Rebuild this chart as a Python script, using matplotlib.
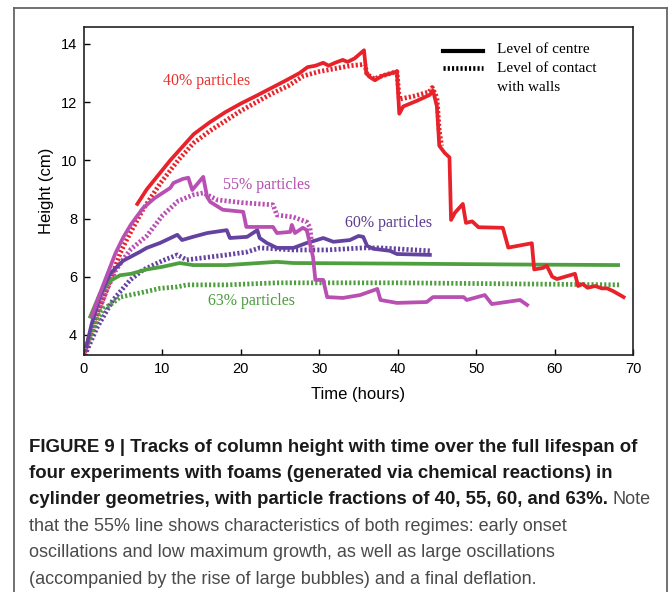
import matplotlib
matplotlib.use("Agg")
import matplotlib.pyplot as plt
from matplotlib.lines import Line2D

# 40% particles
red_c_t = [6.8, 8.0, 9.5, 11.0, 12.5, 14.0, 16.0, 18.0, 20.0, 22.0, 24.0, 26.0, 27.5, 28.5, 29.5, 30.5, 31.2, 32.0,
           33.0, 33.6, 34.5, 35.7, 36.0, 36.5, 37.1, 38.0, 39.9, 40.2, 40.7, 42.5, 44.1, 44.5, 45.0, 45.3, 46.0, 46.6,
           46.8, 47.3, 48.3, 48.7, 49.5, 50.3, 53.4, 54.1, 57.1, 57.4, 58.5, 59.0, 59.7, 60.3, 62.6, 63.0, 63.6, 64.2,
           65.2, 66.0, 66.7, 67.5, 68.8]
red_c_h = [8.5, 9.0, 9.5, 10.0, 10.45, 10.9, 11.3, 11.65, 11.95, 12.22, 12.5, 12.78, 13.0, 13.2, 13.25, 13.35, 13.25, 13.35,
           13.45, 13.38, 13.5, 13.78, 12.98, 12.85, 12.75, 12.9, 13.05, 11.6, 11.85, 12.05, 12.25, 12.4, 11.85, 10.5, 10.25, 10.1,
           7.95, 8.2, 8.5, 7.85, 7.9, 7.7, 7.68, 7.0, 7.15, 6.25, 6.3, 6.38, 6.0, 5.92, 6.1, 5.68, 5.75, 5.62,
           5.68, 5.6, 5.6, 5.5, 5.3]
red_w_t = [0.1, 1.2, 2.9, 4.6, 5.5, 7.5, 9.7, 12.0, 14.0, 16.0, 18.0, 20.0, 22.0, 24.0, 26.0, 28.0, 30.0, 32.0, 34.0, 35.8,
           36.1, 37.0, 38.0, 39.9, 40.2, 42.0, 44.0, 44.4, 45.0, 45.3, 45.6]
red_w_h = [3.4, 4.4, 5.55, 6.8, 7.3, 8.3, 9.2, 10.0, 10.6, 11.0, 11.35, 11.7, 12.0, 12.3, 12.55, 12.9, 13.05, 13.15, 13.25, 13.3,
           12.95, 12.8, 12.9, 13.05, 12.1, 12.2, 12.35, 12.5, 12.15, 11.0, 10.5]

# 55% particles
mag_c_t = [1.0, 2.0, 3.0, 4.0, 5.0, 6.0, 7.5, 9.0, 11.0, 11.4, 12.6, 13.3, 13.8, 15.2, 15.7, 16.1, 17.7, 20.3, 20.7, 24.1,
           24.6, 26.3, 26.5, 26.9, 27.9, 28.4, 29.2, 29.5, 30.5, 31.0, 33.0, 35.2, 37.4, 37.8, 39.9, 43.7, 44.5, 48.4,
           48.8, 51.1, 52.0, 55.6, 56.5]
mag_c_h = [4.65, 5.4, 6.1, 6.8, 7.35, 7.8, 8.35, 8.7, 9.05, 9.22, 9.36, 9.4, 8.98, 9.43, 8.74, 8.57, 8.3, 8.23, 7.71, 7.71,
           7.5, 7.54, 7.78, 7.5, 7.68, 7.6, 6.68, 5.89, 5.89, 5.3, 5.27, 5.37, 5.58, 5.2, 5.1, 5.13, 5.3, 5.3,
           5.2, 5.37, 5.06, 5.2, 5.03]
mag_w_t = [0.1, 1.0, 2.0, 3.0, 4.0, 5.0, 6.0, 8.0, 10.0, 12.0, 13.9, 15.2, 17.0, 20.3, 24.1, 24.6, 26.7, 28.4, 28.8, 29.1]
mag_w_h = [3.3, 4.0, 4.9, 5.6, 6.2, 6.6, 6.95, 7.4, 8.1, 8.6, 8.81, 8.88, 8.64, 8.54, 8.47, 8.12, 8.05, 7.88, 7.7, 7.0]

# 60% particles
pur_c_t = [0.3, 1.0, 2.0, 3.3, 5.0, 7.1, 8.0, 9.7, 11.9, 12.5, 13.9, 15.7, 18.2, 18.6, 20.8, 22.1, 22.4, 23.3, 24.6, 26.7,
           28.4, 29.7, 30.5, 31.8, 33.9, 35.0, 35.6, 36.1, 36.9, 39.0, 39.9, 44.1]
pur_c_h = [3.6, 4.4, 5.3, 6.1, 6.55, 6.85, 6.99, 7.16, 7.44, 7.26, 7.37, 7.5, 7.6, 7.33, 7.37, 7.6, 7.33, 7.16, 6.99, 6.99,
           7.16, 7.26, 7.33, 7.2, 7.26, 7.4, 7.37, 7.06, 6.96, 6.89, 6.78, 6.75]
pur_w_t = [0.1, 1.7, 3.7, 5.9, 7.5, 10.0, 11.9, 13.1, 15.2, 18.2, 20.8, 22.4, 26.7, 31.0, 35.6, 37.8, 44.1]
pur_w_h = [3.3, 4.27, 5.2, 5.89, 6.23, 6.55, 6.75, 6.58, 6.65, 6.75, 6.85, 6.99, 6.92, 6.92, 6.99, 6.99, 6.89]

# 63% particles
grn_c_t = [0.8, 2.0, 3.3, 4.6, 6.0, 8.0, 10.0, 12.2, 13.9, 18.2, 24.6, 26.7, 40.0, 55.0, 68.1]
grn_c_h = [4.63, 5.4, 5.85, 6.05, 6.1, 6.25, 6.34, 6.47, 6.4, 6.4, 6.51, 6.47, 6.45, 6.42, 6.4]
grn_w_t = [0.5, 1.5, 2.5, 3.7, 4.6, 7.1, 9.7, 11.9, 13.1, 18.2, 24.6, 40.0, 68.4]
grn_w_h = [3.7, 4.4, 4.9, 5.1, 5.3, 5.44, 5.6, 5.65, 5.72, 5.72, 5.79, 5.79, 5.72]

RED = "#e8222a"
MAG = "#b94fb3"
PUR = "#6443a0"
GRN = "#4e9f3d"

fig = plt.figure(figsize=(6.69, 5.92), dpi=100)
ax = fig.add_axes([84 / 669, 1 - 355 / 592, 549 / 669, 328 / 592])

DOT = (0, (0.45, 0.45))
LW_S = 2.7
LW_D = 3.4

series = [
    (red_w_t, red_w_h, RED, "w"), (mag_w_t, mag_w_h, MAG, "w"), (pur_w_t, pur_w_h, PUR, "w"), (grn_w_t, grn_w_h, GRN, "w"),
    (grn_c_t, grn_c_h, GRN, "c"), (pur_c_t, pur_c_h, PUR, "c"), (mag_c_t, mag_c_h, MAG, "c"), (red_c_t, red_c_h, RED, "c"),
]
for t, h, col, kind in series:
    if kind == "w":
        ax.plot(t, h, color=col, lw=LW_D, linestyle=DOT, solid_capstyle="butt", dash_capstyle="butt")
    else:
        ax.plot(t, h, color=col, lw=LW_S, solid_joinstyle="round")

ax.set_xlim(0, 70)
ax.set_ylim(3.31, 14.58)
ax.set_xticks([0, 10, 20, 30, 40, 50, 60, 70])
ax.set_yticks([4, 6, 8, 10, 12, 14])
ax.tick_params(direction="in", length=4, width=1, labelsize=10.5, pad=5)
for lab in ax.get_xticklabels() + ax.get_yticklabels():
    lab.set_fontfamily("Liberation Sans")
for s in ax.spines.values():
    s.set_linewidth(1.2)
    s.set_color("#222222")
ax.set_xlabel("Time (hours)", fontsize=12, family="Liberation Sans", labelpad=8)
ax.set_ylabel("Height (cm)", fontsize=12, family="Liberation Sans", labelpad=5)

serif = "Liberation Serif"
ax.text(10.1, 12.73, "40% particles", color="#e8322f", fontsize=11.5, family=serif, va="center")
ax.text(17.7, 9.14, "55% particles", color="#b54fb0", fontsize=11.5, family=serif, va="center")
ax.text(33.3, 7.83, "60% particles", color="#5b3d8f", fontsize=11.5, family=serif, va="center")
ax.text(15.8, 5.15, "63% particles", color="#4c9c3c", fontsize=11.5, family=serif, va="center")

# legend drawn as lines + text
ax.add_line(Line2D([45.8, 50.9], [13.76, 13.76], color="black", lw=3))
ax.add_line(Line2D([45.8, 50.9], [13.18, 13.18], color="black", lw=3.4, linestyle=DOT))
ax.text(52.7, 13.79, "Level of centre", fontsize=11, family=serif, va="center")
ax.text(52.7, 13.16, "Level of contact", fontsize=11, family=serif, va="center")
ax.text(52.7, 12.5, "with walls", fontsize=11, family=serif, va="center")

# outer frame
fc = "#666666"
fig.add_artist(Line2D([14 / 669, 14 / 669], [0, 1 - 8 / 592], color=fc, lw=1.3))
fig.add_artist(Line2D([667 / 669, 667 / 669], [0, 1 - 8 / 592], color=fc, lw=1.3))
fig.add_artist(Line2D([14 / 669, 667 / 669], [1 - 8 / 592, 1 - 8 / 592], color=fc, lw=1.3))

# caption
cap_bold = ["FIGURE 9 | Tracks of column height with time over the full lifespan of",
            "four experiments with foams (generated via chemical reactions) in",
            "cylinder geometries, with particle fractions of 40, 55, 60, and 63%."]
cap_reg = ["that the 55% line shows characteristics of both regimes: early onset",
           "oscillations and low maximum growth, as well as large oscillations",
           "(accompanied by the rise of large bubbles) and a final deflation."]
x0 = 29 / 669
y_first = 447
step = 26.4
renderer = fig.canvas.get_renderer()
last = None
for i, line in enumerate(cap_bold):
    last = fig.text(x0, 1 - (y_first + i * step) / 592, line, fontsize=13.4, weight="bold",
                    family="Liberation Sans", color="#1a1a1a", va="center")
bb = last.get_window_extent(renderer)
fig.text(bb.x1 / 669 + 4 / 669, 1 - (y_first + 2 * step) / 592, "Note", fontsize=13,
         family="Liberation Sans", color="#4a4a4a", va="center")
for i, line in enumerate(cap_reg):
    fig.text(x0, 1 - (y_first + (i + 3) * step) / 592, line, fontsize=13,
             family="Liberation Sans", color="#4a4a4a", va="center")

fig.savefig("out.png", dpi=100)
